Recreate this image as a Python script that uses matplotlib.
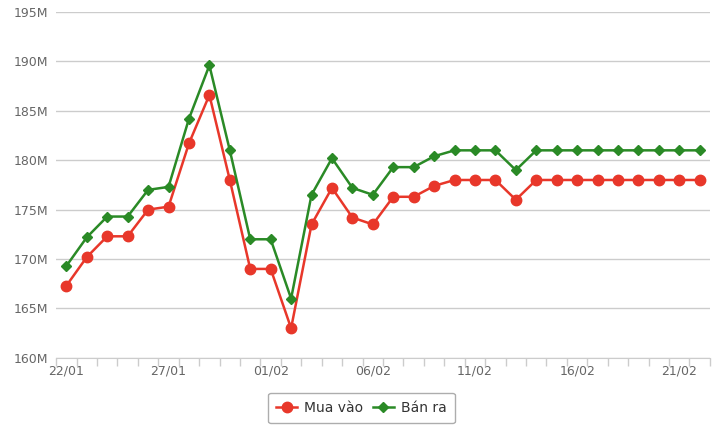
import matplotlib
matplotlib.use("Agg")
import matplotlib.pyplot as plt
import numpy as np

dates = ["22/01", "23/01", "24/01", "25/01", "26/01", "27/01", "28/01", "29/01",
         "30/01", "31/01", "01/02", "02/02", "03/02", "04/02", "05/02", "06/02",
         "07/02", "08/02", "09/02", "10/02", "11/02", "12/02", "13/02", "14/02",
         "15/02", "16/02", "17/02", "18/02", "19/02", "20/02", "21/02", "22/02"]
mua_vao = [167.3, 170.2, 172.3, 172.3, 175.0, 175.3, 181.7, 186.6,
           178.0, 169.0, 169.0, 163.0, 173.5, 177.2, 174.2, 173.5,
           176.3, 176.3, 177.4, 178.0, 178.0, 178.0, 176.0, 178.0,
           178.0, 178.0, 178.0, 178.0, 178.0, 178.0, 178.0, 178.0]
ban_ra = [169.3, 172.2, 174.3, 174.3, 177.0, 177.3, 184.2, 189.6,
          181.0, 172.0, 172.0, 166.0, 176.5, 180.2, 177.2, 176.5,
          179.3, 179.3, 180.4, 181.0, 181.0, 181.0, 179.0, 181.0,
          181.0, 181.0, 181.0, 181.0, 181.0, 181.0, 181.0, 181.0]
y_ticks = [160, 165, 170, 175, 180, 185, 190, 195]

RED = "#e8372a"
GREEN = "#2a8a26"

plt.rcParams["font.family"] = ["DejaVu Sans"]

fig = plt.figure(figsize=(7.2, 4.44), dpi=100)
ax = fig.add_axes([0.078, 0.194, 0.908, 0.779])

x = np.arange(len(dates))
ax.plot(x, mua_vao, color=RED, lw=1.8, marker="o", ms=7.5, label="Mua vào", zorder=3)
ax.plot(x, ban_ra, color=GREEN, lw=1.8, marker="D", ms=5, label="Bán ra", zorder=3)

ax.set_xlim(-0.5, len(dates) - 0.5)
ax.set_ylim(160, 195)
ax.set_yticks(y_ticks)
ax.set_yticklabels([f"{v}M" for v in y_ticks])
ax.yaxis.grid(True, color="#cccccc", lw=1)
ax.set_axisbelow(True)
ax.tick_params(axis="y", length=0, pad=6, labelsize=9, labelcolor="#666666")

ax.set_xticks(x[::5])
ax.set_xticklabels(dates[::5])
ax.set_xticks(np.arange(-0.5, len(dates)), minor=True)
ax.tick_params(axis="x", which="major", length=0, pad=5, labelsize=9, labelcolor="#666666")
ax.tick_params(axis="x", which="minor", length=6, color="#cccccc", width=1)

for side in ["top", "right", "left"]:
    ax.spines[side].set_visible(False)
ax.spines["bottom"].set_color("#cccccc")

leg = fig.legend(loc="center", bbox_to_anchor=(0.502, 0.081), ncol=2, frameon=True,
                 fontsize=10, handlelength=1.5, handletextpad=0.5, columnspacing=0.7,
                 borderpad=0.6, fancybox=True)
leg.get_frame().set_edgecolor("#999999")
leg.get_frame().set_linewidth(1)
for t in leg.get_texts():
    t.set_color("#333333")

fig.savefig("out.png", dpi=100)
